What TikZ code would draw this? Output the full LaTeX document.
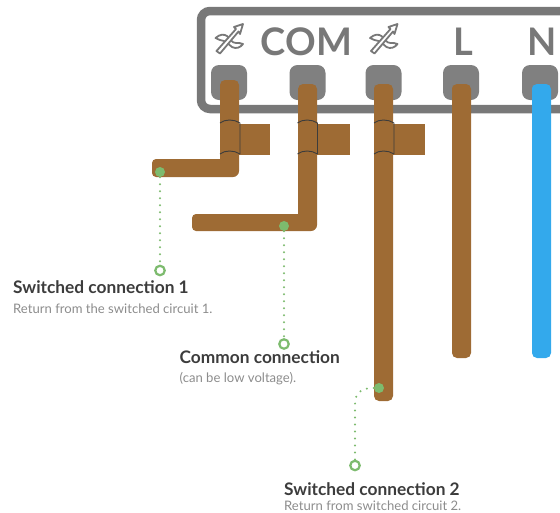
\documentclass[tikz,border=0pt]{standalone}
\usepackage{fontspec}
\setmainfont[Ligatures=Rare]{Lato}
\usepackage{xcolor}
\definecolor{wirebrown}{HTML}{9E6B34}
\definecolor{wireblue}{HTML}{33A9EC}
\definecolor{boxgray}{HTML}{787878}
\definecolor{termgray}{HTML}{808080}
\definecolor{dotgreen}{HTML}{7DBB6E}
\definecolor{headtext}{HTML}{3C3C3C}
\definecolor{subtext}{HTML}{8C8C8C}
\tikzset{
  terminal/.style={fill=termgray, rounded corners=8, minimum width=36, minimum height=35, inner sep=0},
  termlabel/.style={text=boxgray, font=\bfseries\fontsize{38}{38}\selectfont, inner sep=0, anchor=base},
  greendot/.style={circle, fill=dotgreen, minimum size=10, inner sep=0},
  greenring/.style={circle, draw=dotgreen, line width=2.2, fill=white, minimum size=9.5, inner sep=0},
  leader/.style={dotgreen, line width=2.2, line cap=round, dash pattern=on 0pt off 7pt},
  heading/.style={text=headtext, font=\bfseries\fontsize{17.3}{17.3}\selectfont, inner sep=0, anchor=base west},
  subheading/.style={text=subtext, font=\fontsize{13.1}{13.1}\selectfont, inner sep=0, anchor=base west},
  sleeve/.style={draw=headtext, line width=0.9},
  markline/.style={draw=boxgray, fill=white, line width=1.8, line join=round}
}
\newcommand{\switchmark}[1]{
  \begin{scope}[shift={#1}]
  \draw[markline] (-13.5,-1) .. controls (-9,-5) and (-5,-5) .. (-2,-3) .. controls (1,0) and (3,4) .. (7,4) .. controls (10,4) and (12,4) .. (14,5) .. controls (11,9) and (7,10) .. (3,8) .. controls (0,6) and (-2,3) .. (-5,2) .. controls (-8,1) and (-11,1) .. (-13.5,-1) -- cycle;
  \draw[markline] (-12.5,12) -- (7,-10) -- (5,-12) -- (14,-15) -- (11,-5) -- (9.5,-7.5) -- (-9,14.5) -- cycle;
  \end{scope}
}
\begin{document}
\begin{tikzpicture}[x=1pt,y=-1pt]
\useasboundingbox (0,0) rectangle (560,512);

\draw[boxgray, line width=8.5, rounded corners=9] (570,11) -- (201,11) -- (201,109) -- (570,109);

\node[terminal] (term1) at (229,82.5) {};
\node[terminal] (term2) at (307.5,82.5) {};
\node[terminal] (term3) at (383.5,82.5) {};
\node[terminal] (term4) at (461,82.5) {};
\node[terminal] (term5) at (540,82.5) {};

\switchmark{(229,39)}
\switchmark{(383.5,39)}
\node[termlabel] (labelcom) at (306.5,55) {COM};
\node[termlabel] (labell) at (463,55) {L};
\node[termlabel] (labeln) at (542,55) {N};

\fill[wirebrown] (220,124) rectangle (270,155);
\fill[wirebrown] (298,124) rectangle (350,155);
\fill[wirebrown] (374,124) rectangle (425,155);

\fill[wirebrown] (220,159) -- (220,120) [rounded corners=5] -- (220,80) -- (239,80) [rounded corners=6] -- (239,177) [rounded corners=4] -- (152,177) -- (152,159) -- (200,159) [sharp corners] -- cycle;
\fill[wirebrown] (298,214) -- (298,120) [rounded corners=5] -- (298,84) -- (317,84) [rounded corners=6] -- (317,231) [rounded corners=4] -- (192,231) -- (192,214) -- (240,214) [sharp corners] -- cycle;
\fill[wirebrown, rounded corners=5] (374,90) -- (374,84) -- (393,84) -- (393,401) -- (374,401) -- cycle;
\fill[wirebrown, rounded corners=5] (452,90) -- (452,84) -- (471,84) -- (471,358) -- (452,358) -- cycle;
\fill[wireblue, rounded corners=5] (532,90) -- (532,84) -- (551,84) -- (551,358) -- (532,358) -- cycle;

\foreach \x in {220,297.5,374}{
  \draw[sleeve] (\x,123) .. controls (\x+5,119) and (\x+14,119) .. (\x+20,123) -- (\x+20,154);
  \draw[sleeve] (\x,154) .. controls (\x+5,150) and (\x+14,150) .. (\x+20,154);
}

\node[greendot] (dot1) at (160,172) {};
\node[greendot] (dot2) at (284,226) {};
\node[greendot] (dot3) at (379,388) {};
\node[greenring] (ring1) at (160,270.5) {};
\node[greenring] (ring2) at (284,344) {};
\node[greenring] (ring3) at (355,465.5) {};

\draw[leader] (dot1) -- (ring1);
\draw[leader] (dot2) -- (ring2);
\draw[leader] (dot3) .. controls (362,388) and (355,392) .. (355,404) -- (ring3);

\node[heading] (head1) at (13,293.5) {Switc\kern0pt hed connection 1};
\node[subheading] (sub1) at (13,313) {Return from the switc\kern0pt hed circuit 1.};
\node[heading] (head2) at (179.5,363) {Common connection};
\node[subheading] (sub2) at (179.5,382) {(can be low voltage).};
\node[heading] (head3) at (284,495) {Switc\kern0pt hed connection 2};
\node[subheading] (sub3) at (284,510) {Return from switc\kern0pt hed circuit 2.};
\end{tikzpicture}
\end{document}
